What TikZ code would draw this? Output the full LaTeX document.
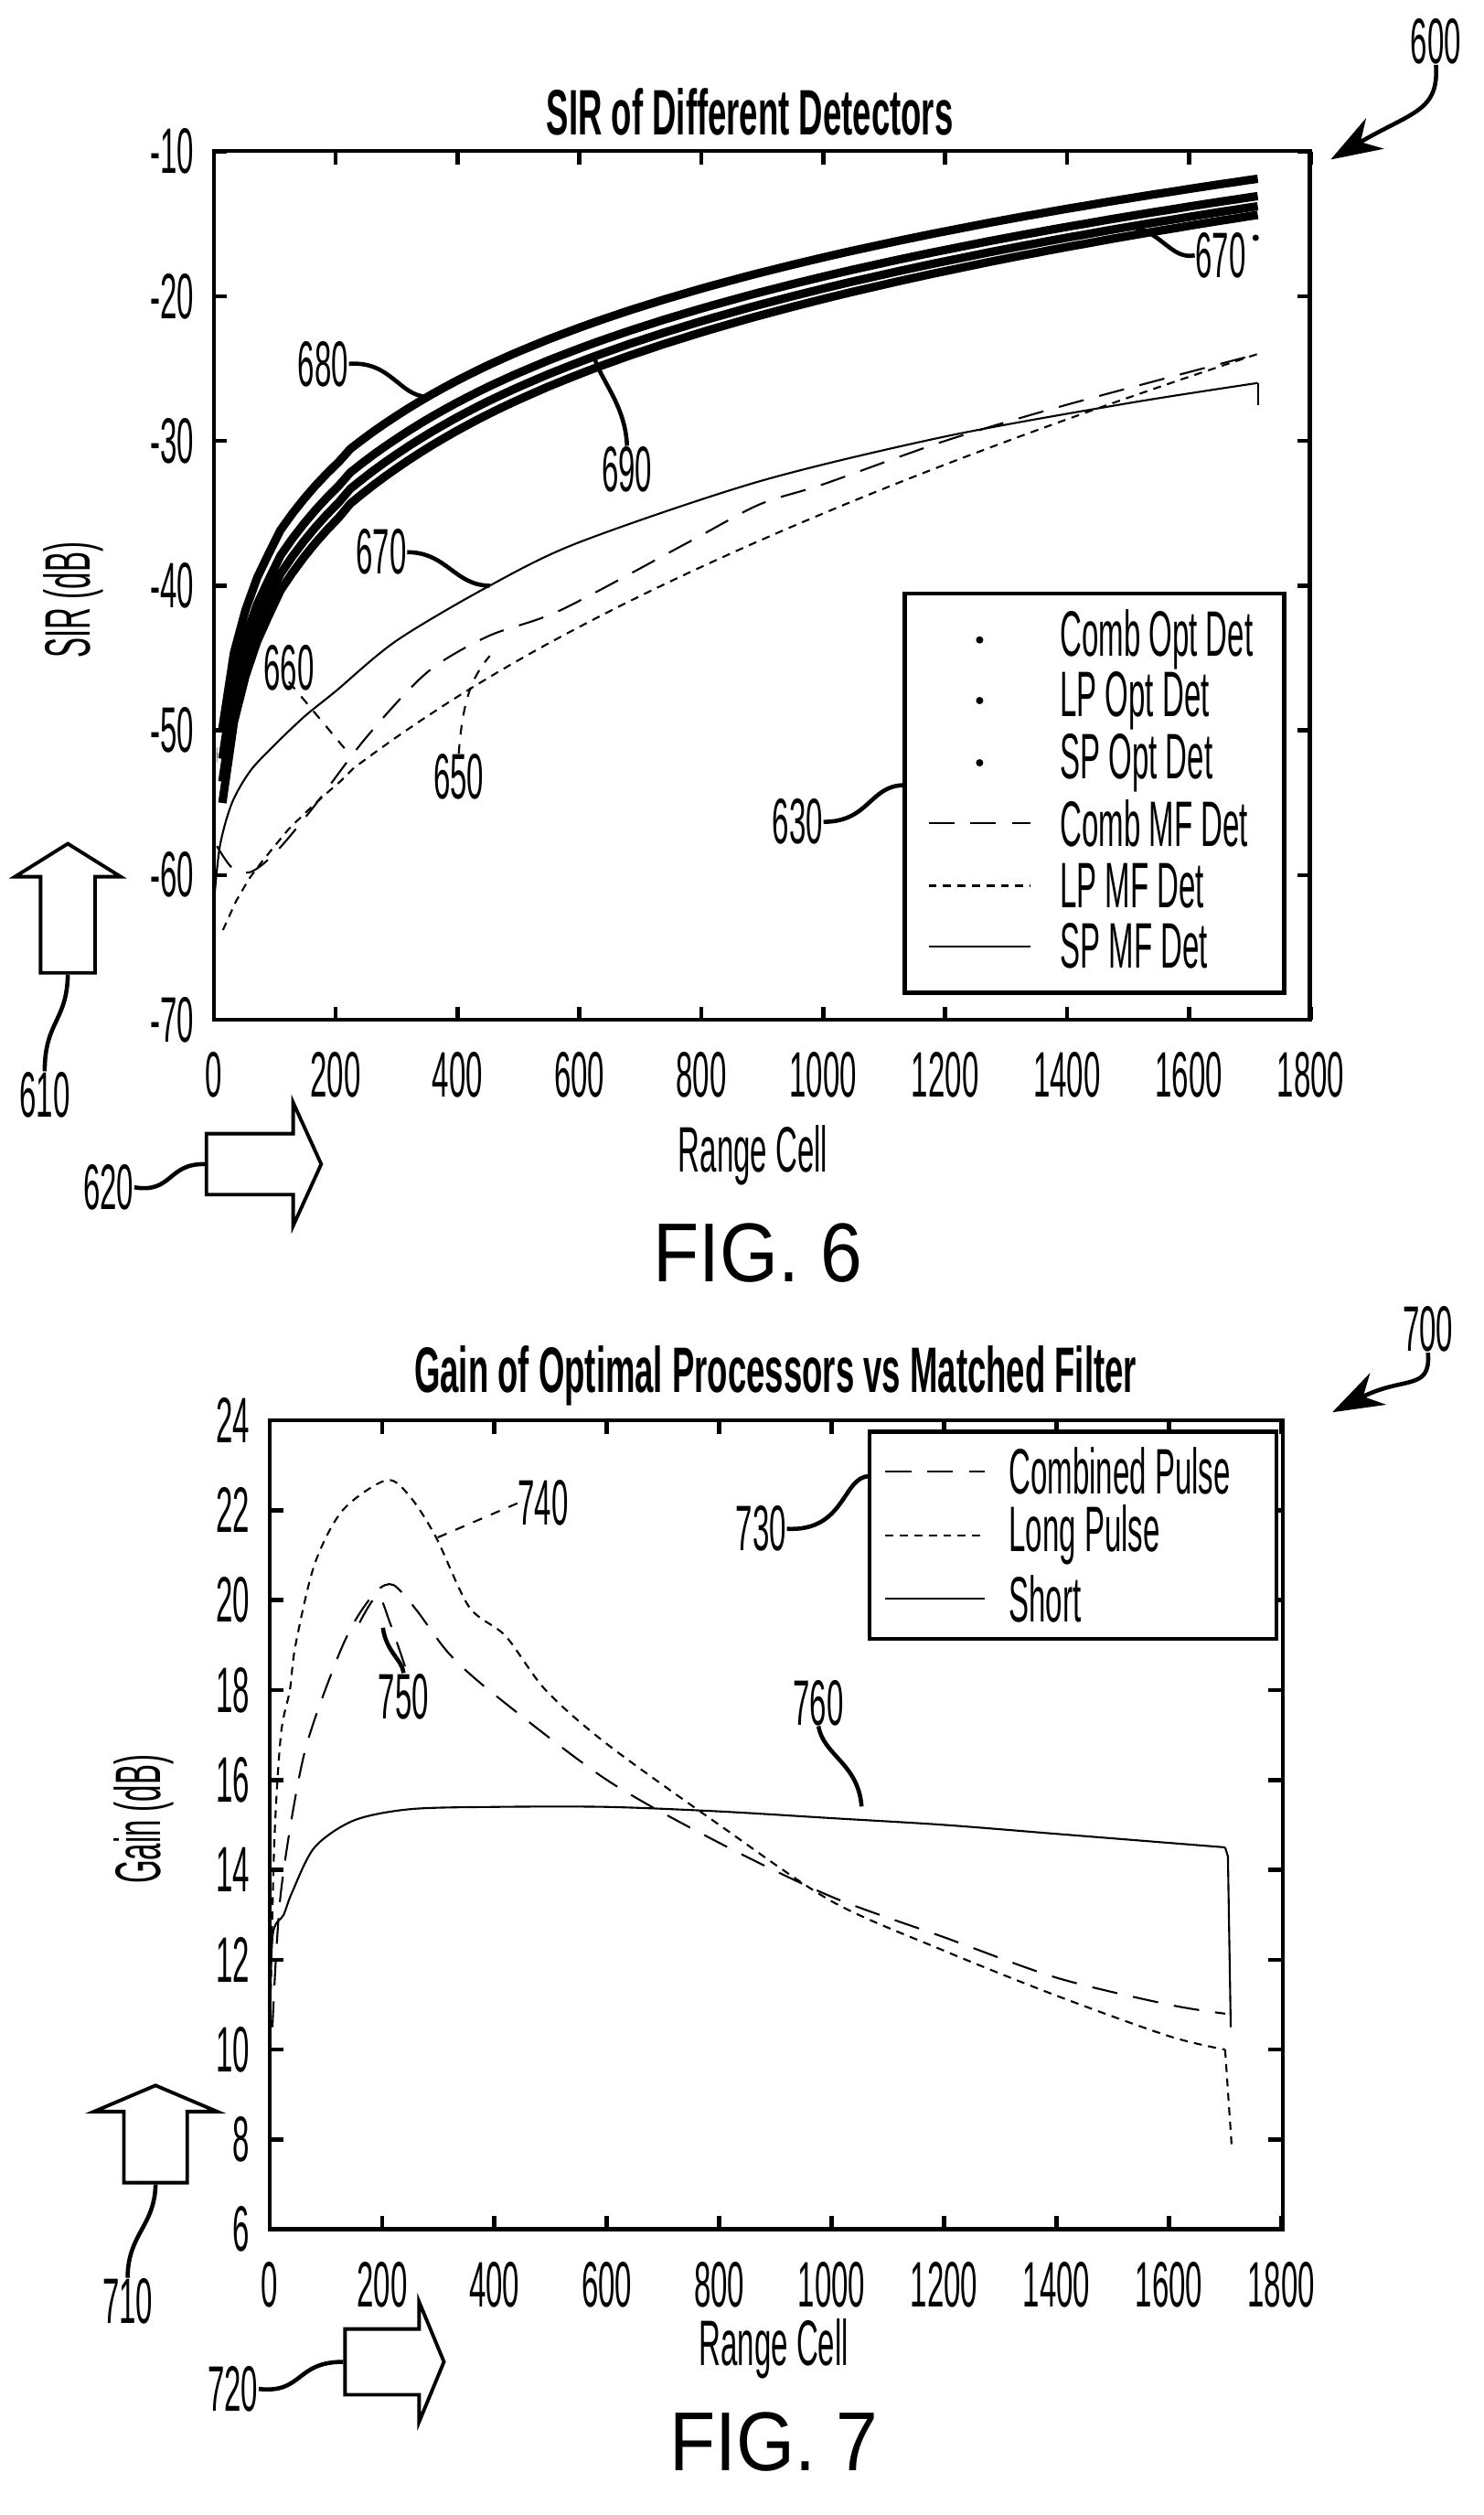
\documentclass[tikz,border=0pt]{standalone}
\usepackage{fontspec}
\setmainfont{Liberation Sans}[FakeStretch=0.47]
\newfontfamily\figfont{Liberation Sans}[FakeStretch=0.9]
\newfontfamily\ttlfont{Liberation Sans}[FakeStretch=0.52]
\usetikzlibrary{arrows.meta}
\usetikzlibrary{positioning}
\usetikzlibrary{shapes.arrows}

\tikzset{
  lbl/.style={font=\fontsize{20}{22}\selectfont, inner sep=0pt},
  ttl/.style={font=\ttlfont\bfseries\fontsize{20}{22}\selectfont, inner sep=0pt},
  tick/.style={font=\fontsize{20}{22}\selectfont, inner sep=0pt},
  frame/.style={line width=1.3pt},
  lead/.style={line width=1.3pt},
  dlead/.style={line width=0.6pt, dash pattern=on 3pt off 3pt},
  opt/.style={line width=2.6pt},
  mfcomb/.style={line width=0.6pt, dash pattern=on 8pt off 5pt},
  mflong/.style={line width=0.6pt, dash pattern=on 2.5pt off 2pt},
  mfshort/.style={line width=0.6pt},
  blk/.style={single arrow, draw, line width=1.1pt, inner xsep=0pt},
  fig/.style={font=\figfont\fontsize{26}{30}\selectfont},
}

\begin{document}
\begin{tikzpicture}[x=0.01745cm, y=-0.01745cm]
\useasboundingbox (0,0) rectangle (930,1576);

% ---------- FIG. 6 ----------
\node[ttl] (t6) at (470,70) {SIR of Different Detectors};
\draw[frame] (134,94.6) rectangle (821,639);
\begin{scope}[shift={(134,639)}, x=0.006661cm, y=0.1583cm]
  \foreach \xv in {0,200,...,1800} {
    \draw[frame] (\xv,0) -- (\xv,0.9);
    \draw[frame] (\xv,60) -- (\xv,59.1);
    \node[tick, below=10pt] at (\xv,0) {\xv};
  }
  \foreach \yv in {-70,-60,...,-10} {
    \draw[frame] (0,\yv+70) -- (22,\yv+70);
    \draw[frame] (1800,\yv+70) -- (1778,\yv+70);
    \node[tick, left=6pt] at (0,\yv+70) {\yv};
  }
  \foreach \k/\e in {87/-11.9, 89/-13.1, 91/-13.8, 93/-14.4}
    \draw[opt, domain=14:1713, samples=90] plot (\x, {70+\e+\k*((\x/1713)^0.12-1)});
  \fill (5,18.3) circle (0.55);
  \draw[mfshort, smooth] plot coordinates {(0,8) (10,12) (30,15) (60,17.2) (100,19) (150,21) (200,22.7) (300,26.2) (453,30) (600,33) (895,37.2) (1200,40.3) (1500,42.6) (1713,44)};
  \draw[mfshort] (1713,44) -- (1713,42.5);
  \draw[mflong, domain=15:1713, samples=80] plot (\x, {3+43*(\x/1713)^0.55});
  \draw[mfcomb, smooth] plot coordinates {(5,12) (30,10.5) (60,10.2) (100,11.5) (160,14.5) (250,19.5) (350,24) (450,26.5) (569,28.3) (779,33) (895,35.6) (1000,37) (1200,40) (1400,42.5) (1713,46)};
\end{scope}
% legend
\draw[frame, fill=white] (567,372) rectangle (805,622);
\foreach \yy/\txt in {401/Comb Opt Det, 439/LP Opt Det, 478/SP Opt Det} {
  \fill (614,\yy) circle (2.3);
  \node[lbl, anchor=west] at (664,\yy) {\txt};
}
\draw[mfcomb] (582,516) -- (646,516); \node[lbl, anchor=west] at (664,516) {Comb MF Det};
\draw[mflong] (582,555) -- (646,555); \node[lbl, anchor=west] at (664,555) {LP MF Det};
\draw[mfshort] (582,593) -- (646,593); \node[lbl, anchor=west] at (664,593) {SP MF Det};
\node[lbl, rotate=90] (yl6) at (46,376) {SIR (dB)};
\node[lbl] (xl6) at (472,724) {Range Cell};
% reference labels
\node[lbl] (n600) at (900,26) {600};
\coordinate (p600) at (834,100);
\draw[lead, -{Stealth[length=16pt, width=11pt]}] (n600.south) .. controls (902,70) and (885,70) .. (p600);
\node[lbl] (n670a) at (765,160) {670};
\coordinate (c670a) at (712,143);
\draw[lead] (n670a.west) .. controls (735,163) and (728,146) .. (c670a);
\fill (787,149) circle (2);
\node[lbl] (n680) at (202.5,228) {680};
\coordinate (c680) at (267.8,248.7);
\draw[lead] (n680.east) .. controls (245,226) and (250,248) .. (c680);
\node[lbl] (n690) at (393,294) {690};
\coordinate (c690) at (373,225.7);
\draw[lead] (n690.north) .. controls (392,255) and (378,240) .. (c690);
\node[lbl] (n670b) at (239,346) {670};
\coordinate (c670b) at (307,367);
\draw[lead] (n670b.east) .. controls (280,346) and (285,367) .. (c670b);
\node[lbl] (n660) at (181,418.5) {660};
\coordinate (c660) at (216,469);
\draw[dlead] (n660.south) ++(0,-6) -- (c660);
\node[lbl] (n650) at (287.5,487) {650};
\coordinate (c650) at (307,411);
\draw[dlead] (n650.north) .. controls (290,440) and (295,425) .. (c650);
\node[lbl] (n630) at (500,515) {630};
\coordinate (c630) at (567,492);
\draw[lead] (n630.east) .. controls (545,515) and (545,492) .. (c630);
\node[blk, rotate=90, minimum height=1.413cm, inner ysep=0.279cm, single arrow head extend=0.279cm, single arrow tip angle=116] (a610) at (42.5,574.5) {};
\node[lbl] (n610) at (28,686) {610};
\draw[lead] (a610.west) .. controls (42,640) and (28,640) .. (n610.north);
\node[blk, minimum height=1.256cm, inner ysep=0.314cm, single arrow head extend=0.340cm, single arrow tip angle=131] (a620) at (161,729.5) {};
\node[lbl] (n620) at (68,744) {620};
\draw[lead] (n620.east) .. controls (108,748) and (105,729) .. (a620.west);
\node[fig] (f6) at (475,785) {FIG. 6};

% ---------- FIG. 7 ----------
\node[ttl] (t7) at (486,862) {Gain of Optimal Processors vs Matched Filter};
\draw[frame] (169,890) rectangle (804,1397);
\begin{scope}[shift={(169,1397)}, x=0.006156cm, y=0.4916cm]
  \foreach \xv in {0,200,...,1800} {
    \draw[frame] (\xv,0) -- (\xv,0.3);
    \draw[frame] (\xv,18) -- (\xv,17.7);
    \node[tick, below=10pt] at (\xv,0) {\xv};
  }
  \foreach \yv in {6,8,...,24} {
    \draw[frame] (0,\yv-6) -- (24,\yv-6);
    \draw[frame] (1800,\yv-6) -- (1776,\yv-6);
    \node[tick, left=6pt] at (0,\yv-6) {\yv};
  }
  \draw[mflong, smooth] plot coordinates {(0,4) (8,8.5) (20,11) (36,12) (46,13) (80,14.8) (130,16) (208,16.67) (250,16.3) (296,15.4) (355,13.85) (420,13.2) (491,12) (600,10.8) (800,9) (1000,7.3) (1200,6.2) (1400,5.2) (1600,4.3) (1700,4)};
  \draw[mflong] (1700,4) -- (1712,1.8);
  \draw[mfcomb, smooth] plot coordinates {(5,4.5) (20,7.5) (60,10.5) (114,12.5) (150,13.5) (190,14.2) (220,14.34) (260,13.8) (320,12.8) (400,11.9) (600,10) (800,8.6) (1000,7.4) (1200,6.5) (1400,5.6) (1600,5) (1700,4.8)};
  \draw[mfcomb, smooth] plot coordinates {(160,13.5) (192,14.1) (214,13.5) (247,12.3)};
  \draw[mfshort, smooth] plot coordinates {(0,4) (5,6.5) (25,7) (40,7.5) (80,8.5) (150,9.1) (250,9.35) (400,9.4) (600,9.4) (800,9.3) (1000,9.15) (1200,9) (1400,8.8) (1600,8.6) (1700,8.5)};
  \draw[mfshort] (1700,8.5) -- (1705,8.3) -- (1710,4.5);
\end{scope}
\draw[frame, fill=white] (545,897) rectangle (800,1027);
\draw[mfcomb] (555,922) -- (617,922); \node[lbl, anchor=west] at (632,922) {Combined Pulse};
\draw[mflong] (555,962) -- (617,962); \node[lbl, anchor=west] at (632,962) {Long Pulse};
\draw[mfshort] (555,1002) -- (617,1002); \node[lbl, anchor=west] at (632,1002) {Short};
\node[lbl, rotate=90] (yl7) at (90,1140) {Gain (dB)};
\node[lbl] (xl7) at (485,1472) {Range Cell};
\node[lbl] (n700) at (895,833) {700};
\coordinate (p700) at (835,885);
\draw[lead, -{Stealth[length=16pt, width=11pt]}] (n700.south) .. controls (897,872) and (880,862) .. (p700);
\node[lbl] (n740) at (340.5,942) {740};
\coordinate (c740) at (273,964);
\draw[dlead] (n740.west) -- (c740);
\node[lbl] (n750) at (253,1063) {750};
\coordinate (c750) at (240,1020);
\draw[lead] (n750.north) .. controls (252,1040) and (242,1035) .. (c750);
\node[lbl] (n760) at (513,1067) {760};
\coordinate (c760) at (540,1132);
\draw[lead] (n760.south) .. controls (516,1100) and (538,1105) .. (c760);
\node[lbl] (n730) at (477,958) {730};
\coordinate (c730) at (545,925);
\draw[lead] (n730.east) .. controls (530,960) and (528,925) .. (c730);
\node[blk, rotate=90, minimum height=1.064cm, inner ysep=0.327cm, single arrow head extend=0.327cm, single arrow tip angle=134] (a710) at (97.5,1341.5) {};
\node[lbl] (n710) at (80,1442) {710};
\draw[lead] (a710.west) .. controls (97,1395) and (80,1400) .. (n710.north);
\node[blk, minimum height=1.082cm, inner ysep=0.34cm, single arrow head extend=0.297cm, single arrow tip angle=135] (a720) at (243,1480) {};
\node[lbl] (n720) at (146,1497) {720};
\draw[lead] (n720.east) .. controls (190,1500) and (185,1480) .. (a720.west);
\node[fig] (f7) at (485,1530) {FIG. 7};
\end{tikzpicture}
\end{document}
